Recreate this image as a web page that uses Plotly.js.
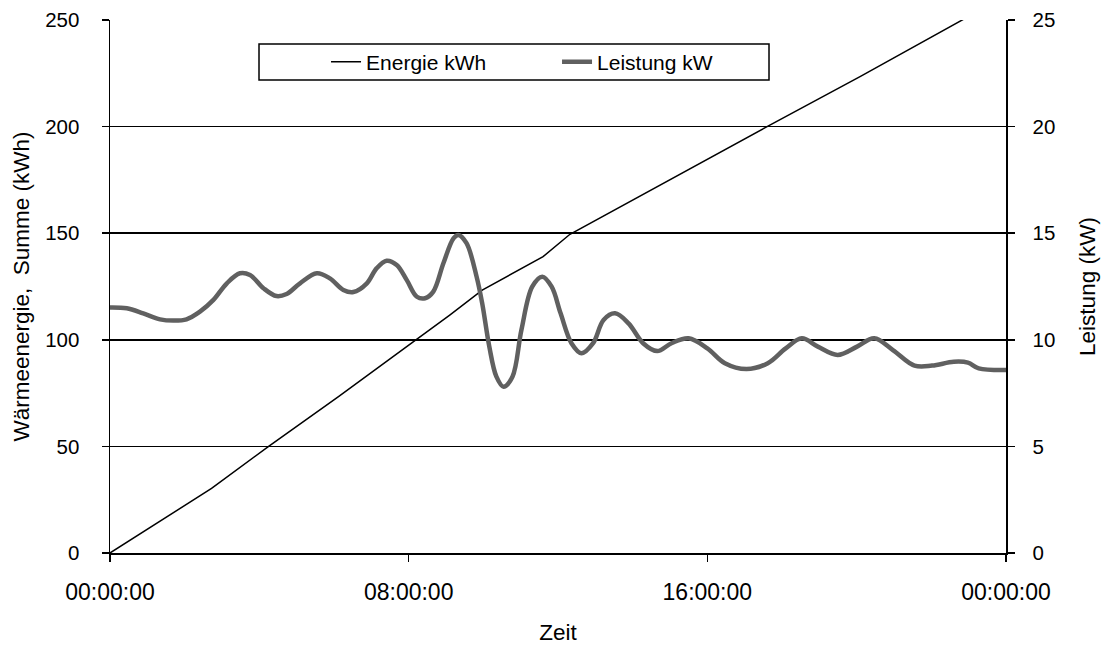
<!DOCTYPE html>
<html>
<head>
<meta charset="utf-8">
<script src="https://cdn.plot.ly/plotly-3.0.1.min.js"></script>
<style>
  html, body { margin: 0; padding: 0; background: #fff; }
  #chart { width: 1103px; height: 645px; }
</style>
</head>
<body>
<div id="chart"></div>
<script>
// Time in hours after 00:00:00
const energieHours = [0, 2.72, 4.24, 6.12, 8.13, 9.1, 9.97, 10.82, 11.6, 12.32, 14.73, 17.55, 20.09, 22.81, 24];
const energieKWh   = [0, 30.3, 49.9, 73.3, 99.1, 111.6, 123.3, 131.3, 139, 149.5, 172.7, 199.5, 223.4, 250, 261.4];

const leistungHours = [0, 0.45, 0.89, 1.34, 1.70, 2.05, 2.41, 2.77, 3.13, 3.48, 3.75, 4.11, 4.46, 4.73, 5.09, 5.54,
  5.89, 6.25, 6.52, 6.88, 7.14, 7.41, 7.68, 7.95, 8.22, 8.44, 8.66, 8.93, 9.20, 9.33, 9.55, 9.82, 9.97, 10.16,
  10.35, 10.54, 10.78, 11.02, 11.31, 11.58, 11.83, 12.07, 12.36, 12.63, 12.94, 13.22, 13.53, 13.89, 14.28,
  14.66, 15.04, 15.5, 16.0, 16.47, 17.05, 17.62, 18.10, 18.53, 18.96, 19.49, 20.01, 20.47, 20.97, 21.55,
  22.02, 22.6, 22.98, 23.27, 24];
const leistungKW = [11.52, 11.48, 11.24, 10.96, 10.90, 10.96, 11.32, 11.87, 12.65, 13.12, 13.04, 12.42, 12.05, 12.15, 12.65, 13.12,
  12.88, 12.34, 12.24, 12.65, 13.35, 13.71, 13.51, 12.80, 12.02, 11.95, 12.26, 13.59, 14.76, 14.92, 14.53, 12.96, 11.71, 9.68,
  8.27, 7.80, 8.27, 10.46, 12.49, 12.96, 12.49, 11.24, 9.84, 9.37, 9.84, 10.93, 11.24, 10.77, 9.84,
  9.47, 9.84, 10.07, 9.60, 8.90, 8.63, 8.90, 9.60, 10.07, 9.68, 9.29, 9.68, 10.07, 9.52, 8.79,
  8.79, 8.97, 8.93, 8.66, 8.58];

const xTickVals = [0, 8, 16, 24];
const xTickText = ['00:00:00', '08:00:00', '16:00:00', '00:00:00'];
const seriesNames = ['Energie kWh', 'Leistung kW'];

const FAM = 'Liberation Sans, Arial, sans-serif';
const f = (s) => ({ family: FAM, size: s, color: '#000' });

const traces = [
  { x: energieHours, y: energieKWh, name: seriesNames[0], type: 'scatter', mode: 'lines',
    line: { color: '#000', width: 1.5 }, yaxis: 'y', hoverinfo: 'skip' },
  { x: leistungHours, y: leistungKW, name: seriesNames[1], type: 'scatter', mode: 'lines',
    line: { color: '#606060', width: 4.5, shape: 'spline', smoothing: 1 }, yaxis: 'y2', hoverinfo: 'skip' }
];

const layout = {
  width: 1103, height: 645, autosize: false,
  margin: { l: 110, r: 97, t: 20, b: 92, pad: 0 },
  paper_bgcolor: '#fff', plot_bgcolor: '#fff',
  font: f(20),
  showlegend: true,
  legend: {
    orientation: 'h', x: 0.2411, xanchor: 'left', y: 0.921, yanchor: 'middle',
    bgcolor: 'rgba(0,0,0,0)', borderwidth: 0, entrywidth: 186, entrywidthmode: 'pixels',
    font: f(21), traceorder: 'normal'
  },
  shapes: [{
    type: 'rect', xref: 'paper', yref: 'paper',
    x0: 0.1663, x1: 0.7355, y0: 0.8874, y1: 0.955,
    line: { color: '#000', width: 1.5 }, fillcolor: '#fff', layer: 'below'
  }],
  xaxis: {
    range: [0, 24], tickmode: 'array', tickvals: xTickVals, ticktext: xTickText,
    ticks: 'outside', ticklen: 7, tickwidth: 1.5, tickcolor: '#000',
    showline: true, linecolor: '#000', linewidth: 1.5,
    showgrid: false, zeroline: false, ticklabelstandoff: 11,
    title: { text: 'Zeit', font: f(22.5), standoff: 30 },
    tickfont: f(23)
  },
  yaxis: {
    range: [0, 250], tickmode: 'linear', tick0: 0, dtick: 50,
    ticks: 'outside', ticklen: 7, tickwidth: 1.5, tickcolor: '#000',
    showline: true, linecolor: '#000', linewidth: 1.5,
    showgrid: true, gridcolor: '#000', gridwidth: 1.5, zeroline: false,
    ticklabelstandoff: 18,
    title: { text: 'Wärmeenergie,\u00A0 Summe (kWh)', font: f(22.5), standoff: 9 },
    tickfont: f(20.5)
  },
  yaxis2: {
    range: [0, 25], tickmode: 'linear', tick0: 0, dtick: 5,
    overlaying: 'y', side: 'right',
    ticks: 'outside', ticklen: 7, tickwidth: 1.5, tickcolor: '#000',
    showline: true, linecolor: '#000', linewidth: 1.5,
    showgrid: false, zeroline: false, ticklabelstandoff: 14,
    title: { text: 'Leistung (kW)', font: f(22.5), standoff: 25 },
    tickfont: f(20.5)
  }
};

Plotly.newPlot('chart', traces, layout, { staticPlot: true, displayModeBar: false });
</script>
</body>
</html>
